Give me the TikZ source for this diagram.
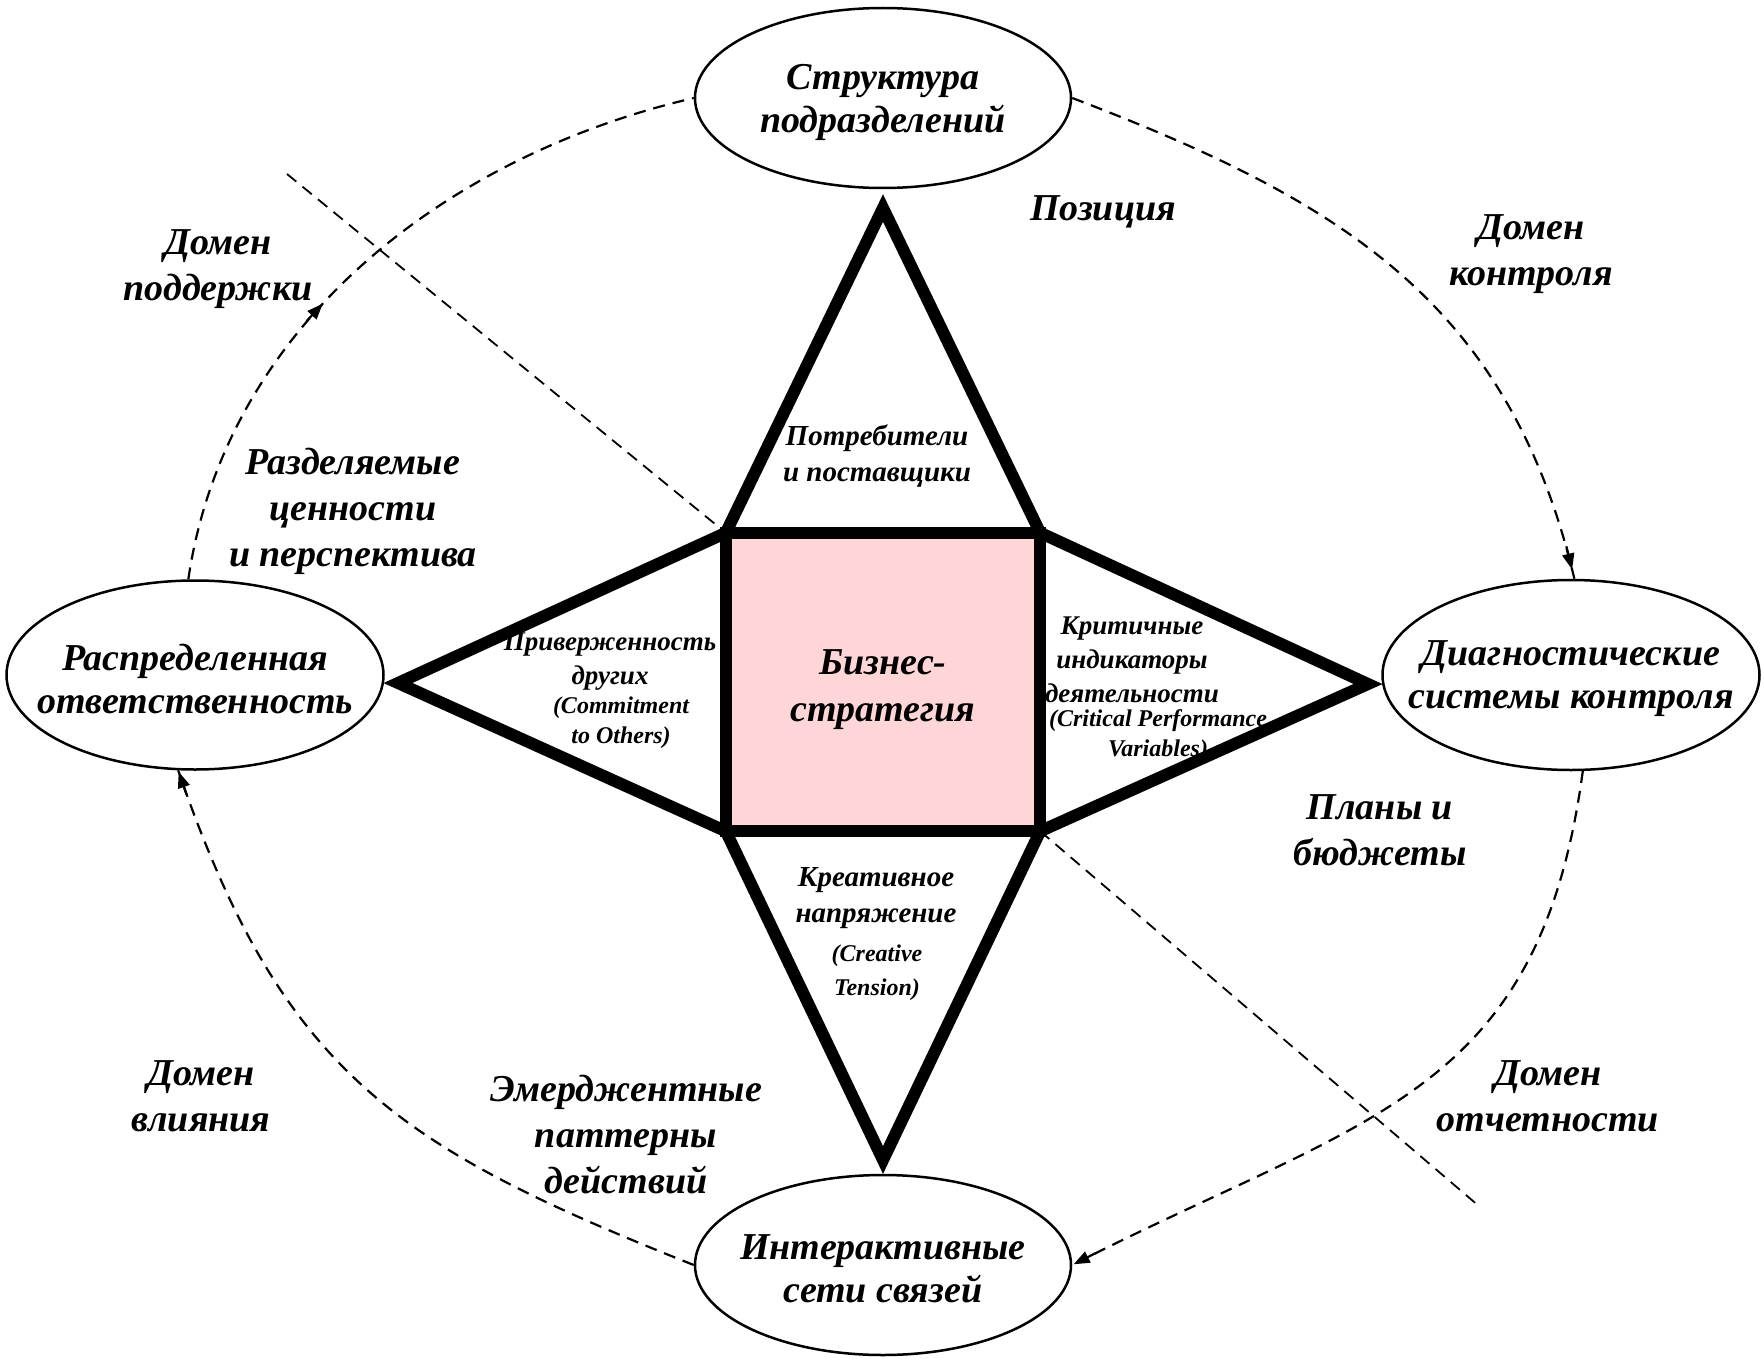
\documentclass[tikz,border=0pt]{standalone}
\usepackage{fontspec}
\setmainfont{Liberation Serif}
\usetikzlibrary{shapes.geometric, arrows.meta, decorations.markings}

\definecolor{corefill}{RGB}{255,214,216}

\begin{document}
\begin{tikzpicture}[x=1pt, y=-1pt,
  bigtxt/.style={font=\fontsize{38}{46}\selectfont\bfseries\itshape, align=center, inner sep=0pt},
  smalltxt/.style={font=\fontsize{27}{34}\selectfont\bfseries\itshape, align=center, inner sep=0pt},
  engtxt/.style={font=\fontsize{24}{30}\selectfont\bfseries\itshape, align=center, inner sep=0pt},
  levertxt/.style={font=\fontsize{38}{43}\selectfont\bfseries\itshape, align=center, inner sep=0pt, yshift=-4pt},
  system/.style={ellipse, draw, line width=2.5pt, fill=white, inner sep=0pt},
  dashline/.style={dash pattern=on 12pt off 8pt, line width=2.2pt},
  thickline/.style={line width=12pt, line join=miter},
  flowarrow/.style={postaction={decorate}, decoration={markings,
    mark=at position #1 with {\draw[solid, line width=2.2pt,
      -{Triangle[length=16pt, width=12pt]}] (-24pt,0) -- (0,0);}}}
]
% page
\fill[white] (0,0) rectangle (1764,1359);
\useasboundingbox (0,0) rectangle (1764,1359);

% central square
\node[rectangle, fill=corefill, minimum width=314pt, minimum height=298pt, inner sep=0pt,
      label={[font=\fontsize{38}{47}\selectfont\bfseries\itshape, align=center,
              inner sep=0pt, yshift=-8pt]center:{Бизнес-\\стратегия}}]
      (S) at (883,682) {};

% triangle apexes
\coordinate (apexN) at (883,208);
\coordinate (apexS) at (883,1160);
\coordinate (apexW) at (398,683);
\coordinate (apexE) at (1368,684);

% domain separators
\coordinate (sepA) at (287,174);
\coordinate (sepB) at (1480,1207);
\draw[dashline, line width=1.8pt] (sepA) -- (S.north west);
\draw[dashline, line width=1.8pt] (S.south east) -- (sepB);

% labels inside the triangles
\node[smalltxt, font=\fontsize{29}{36}\selectfont\bfseries\itshape] (cust) at (877,456) {Потребители\\и поставщики};
\node[smalltxt] (commit) at (610,662) {Приверженность\\других};
\node[engtxt] (commitEn) at (621,723) {(Commitment\\to Others)};
\node[smalltxt] (crit) at (1132,660) {Критичные\\индикаторы\\деятельности};
\node[engtxt] (critEn) at (1158,736) {(Critical Performance\\Variables)};
\node[smalltxt, font=\fontsize{29}{36}\selectfont\bfseries\itshape] (creat) at (876,898) {Креативное\\напряжение};
\node[engtxt, font=\fontsize{24}{34}\selectfont\bfseries\itshape] (creatEn) at (877,973) {(Creative\\Tension)};

% labels around the star
\node[bigtxt] (posit) at (1103,212) {Позиция};
\node[bigtxt] (dctl) at (1531,254) {Домен\\контроля};
\node[bigtxt] (dsup) at (218,269) {Домен\\поддержки};
\node[bigtxt] (vals) at (353,511) {Разделяемые\\ценности\\и перспектива};
\node[bigtxt] (plans) at (1380,830) {Планы и\\бюджеты};
\node[bigtxt] (dinf) at (201,1096) {Домен\\влияния};
\node[bigtxt] (emerg) at (626,1135) {Эмерджентные\\паттерны\\действий};
\node[bigtxt] (drep) at (1548,1096) {Домен\\отчетности};

% star outline
\draw[thickline] (S.north west) -- (apexN) -- (S.north east) -- (apexE)
  -- (S.south east) -- (apexS) -- (S.south west) -- (apexW) -- cycle;
\draw[thickline] (S.north west) rectangle (S.south east);

% the four control levers
\node[system, minimum width=376pt, minimum height=180pt,
      label={[levertxt]center:{Структура\\подразделений}}] (T) at (883,98) {};
\node[system, minimum width=377pt, minimum height=189pt,
      label={[levertxt]center:{Распределенная\\ответственность}}] (L) at (195,675) {};
\node[system, minimum width=377pt, minimum height=190pt,
      label={[levertxt]center:{Диагностические\\системы контроля}}] (R) at (1571,675) {};
\node[system, minimum width=376pt, minimum height=180pt,
      label={[levertxt]center:{Интерактивные\\сети связей}}] (B) at (883,1265) {};

% dashed cycle between the levers
\draw[dashline, flowarrow=0.42] (L.94) .. controls +(37,-253) and +(-249,58) .. (T.west);
\draw[dashline, flowarrow=0.987] (T.east) .. controls +(267,102) and +(-66,-278) .. (R.88);
\draw[dashline, flowarrow=0.998] (R.277) .. controls +(-44,327) and +(294,-150) .. (B.east);
\draw[dashline, flowarrow=0.998] (B.west) .. controls +(-297,-118) and +(104,302) .. (L.260);
\end{tikzpicture}
\end{document}
